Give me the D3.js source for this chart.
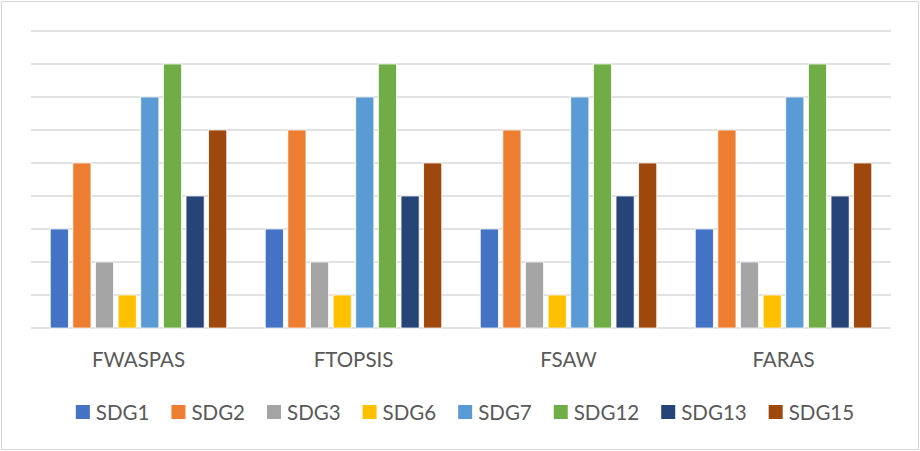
<!DOCTYPE html>
<html>
<head>
<meta charset="utf-8">
<script src="https://cdn.jsdelivr.net/npm/d3@7"></script>
<style>
  html, body { margin: 0; padding: 0; background: #fff; }
  svg { display: block; font-family: Lato, "Open Sans", sans-serif; }
</style>
</head>
<body>
<svg id="chart" width="920" height="451"></svg>
<script>
// 方法类别与 SDG 系列
const methods = ["FWASPAS", "FTOPSIS", "FSAW", "FARAS"];
const series = ["SDG1", "SDG2", "SDG3", "SDG6", "SDG7", "SDG12", "SDG13", "SDG15"];
const colors = ["#4472c4", "#ed7d31", "#a5a5a5", "#ffc000", "#5b9bd5", "#70ad47", "#264478", "#9e480e"];

// 每个系列在四个方法下的值
const sdg1  = [3, 3, 3, 3];
const sdg2  = [5, 6, 6, 6];
const sdg3  = [2, 2, 2, 2];
const sdg6  = [1, 1, 1, 1];
const sdg7  = [7, 7, 7, 7];
const sdg12 = [8, 8, 8, 8];
const sdg13 = [4, 4, 4, 4];
const sdg15 = [6, 5, 5, 5];
const values = [sdg1, sdg2, sdg3, sdg6, sdg7, sdg12, sdg13, sdg15];

const svg = d3.select("#chart");
const W = 920, H = 451;
const plot = { left: 31, right: 891, top: 31, bottom: 328 };

// 外框
svg.append("rect")
  .attr("x", 1.5).attr("y", 1.5)
  .attr("width", W - 3).attr("height", H - 3)
  .attr("fill", "#fff")
  .attr("stroke", "#d9d9d9")
  .attr("stroke-width", 1);

const y = d3.scaleLinear().domain([0, 9]).range([plot.bottom, plot.top]);
const x0 = d3.scaleBand().domain(methods).range([plot.left, plot.right]).padding(0);
const x1 = d3.scaleBand().domain(series).range([0, x0.bandwidth()])
  .paddingInner(0.2).paddingOuter(0.85);

// 网格线
svg.append("g")
  .selectAll("line")
  .data(d3.range(0, 10))
  .join("line")
    .attr("x1", plot.left).attr("x2", plot.right)
    .attr("y1", d => y(d)).attr("y2", d => y(d))
    .attr("stroke", "#d9d9d9")
    .attr("stroke-width", 1.3);

// 柱子
const groups = svg.append("g")
  .selectAll("g")
  .data(methods)
  .join("g")
    .attr("transform", d => `translate(${x0(d)},0)`);

groups.selectAll("rect")
  .data((m, mi) => series.map((s, si) => ({ s, si, v: values[si][mi] })))
  .join("rect")
    .attr("x", d => x1(d.s))
    .attr("y", d => y(d.v))
    .attr("width", x1.bandwidth())
    .attr("height", d => y(0) - y(d.v))
    .attr("fill", d => colors[d.si])
    .attr("stroke", "#fff")
    .attr("stroke-width", 0.75);

// 类别标签
svg.append("g")
  .selectAll("text")
  .data(methods)
  .join("text")
    .attr("x", d => x0(d) + x0.bandwidth() / 2)
    .attr("y", 367)
    .attr("text-anchor", "middle")
    .attr("font-size", "20.5px")
    .attr("fill", "#595959")
    .text(d => d);

// 图例
const legend = svg.append("g");
const items = legend.selectAll("g")
  .data(series)
  .join("g");
items.append("rect")
  .attr("width", 14).attr("height", 14)
  .attr("y", 405)
  .attr("fill", (d, i) => colors[i]);
items.append("text")
  .attr("x", 20)
  .attr("y", 419.5)
  .attr("font-size", "20.5px")
  .attr("fill", "#595959")
  .text(d => d);

let cx = 0;
const offsets = [];
items.each(function() {
  const tw = d3.select(this).select("text").node().getComputedTextLength();
  offsets.push(cx);
  cx += 20 + tw + 22;
});
const total = cx - 22;
const startX = 465 - total / 2;
items.attr("transform", (d, i) => `translate(${startX + offsets[i]},0)`);
</script>
</body>
</html>
